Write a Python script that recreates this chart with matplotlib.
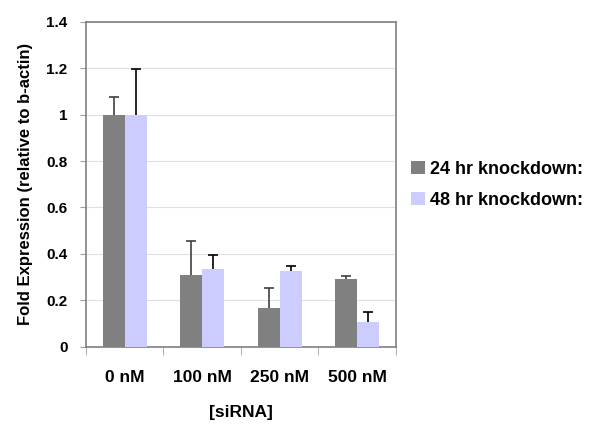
import numpy as np
import matplotlib
matplotlib.use("Agg")
import matplotlib.pyplot as plt

# values
categories = ["0 nM", "100 nM", "250 nM", "500 nM"]
hr24 = [1.0, 0.307, 0.166, 0.293]
hr24_err = [0.076, 0.150, 0.087, 0.010]
hr48 = [1.0, 0.333, 0.324, 0.107]
hr48_err = [0.197, 0.062, 0.022, 0.042]
yticks = [0, 0.2, 0.4, 0.6, 0.8, 1, 1.2, 1.4]

plt.rcParams['font.family'] = ['Liberation Sans', 'DejaVu Sans']
plt.rcParams['font.weight'] = 'bold'

fig = plt.figure(figsize=(6, 4.3), dpi=100)
ax = fig.add_axes([0.143, 0.194, 0.517, 0.755])

x = np.arange(len(categories))
w = 0.283
ax.bar(x - w / 2, hr24, w, color='#808080', label='24 hr knockdown:', zorder=3)
ax.bar(x + w / 2, hr48, w, color='#ccccff', label='48 hr knockdown:', zorder=3)

# upper-only error bars, drop the lower caps
for xs, ys, es, c in [(x - w / 2, hr24, hr24_err, '#404040'), (x + w / 2, hr48, hr48_err, 'black')]:
    n = len(ys)
    eb = ax.errorbar(xs, ys, yerr=[np.zeros(n), es], fmt='none', ecolor=c,
                     elinewidth=1.2, capsize=3.5, capthick=1.2, zorder=4)
    eb[1][0].set_visible(False)

ax.set_xlim(-0.5, len(categories) - 0.5)
ax.set_ylim(0, 1.4)
ax.set_yticks(yticks)
ax.set_yticklabels([f"{t:g}" for t in yticks], fontsize=11, fontweight='bold')
ax.yaxis.grid(True, color='#e0e0e0', linewidth=0.8, zorder=0)

# category labels centred, tick marks between categories
ax.set_xticks(x)
ax.set_xticklabels(categories, fontsize=12.5, fontweight='bold')
ax.tick_params(axis='x', length=0, pad=17)
ax.set_xticks(np.arange(-0.5, len(categories)), minor=True)
ax.tick_params(axis='x', which='minor', length=6, color='#a0a0a0', direction='out')
ax.tick_params(axis='y', length=4, color='#a0a0a0', direction='out', pad=9)

for s in ax.spines.values():
    s.set_color('#808080')
    s.set_linewidth(1.2)

ax.set_xlabel("[siRNA]", fontsize=12.5, fontweight='bold', labelpad=14)
ax.set_ylabel("Fold Expression (relative to b-actin)", fontsize=12, fontweight='bold', labelpad=10)

fig.legend(loc='center left', bbox_to_anchor=(0.658, 0.57), frameon=False,
           prop={'weight': 'bold', 'size': 13}, handlelength=0.75, handleheight=0.75,
           handletextpad=0.3, labelspacing=0.75)

plt.savefig('out.png', dpi=100)
